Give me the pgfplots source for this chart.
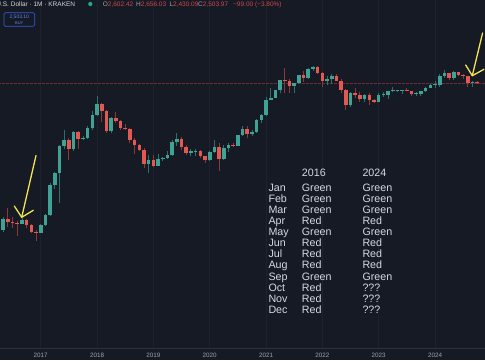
\documentclass[border=0pt]{standalone}
\usepackage{pgfplots}
\pgfplotsset{compat=1.18}
\usepackage{pgfplotstable}
\usepackage{fontspec}
\setmainfont{Liberation Sans}
\setsansfont{Liberation Sans}
\definecolor{bg}{RGB}{22,26,37}
\definecolor{cgreen}{RGB}{62,163,148}
\definecolor{cred}{RGB}{228,88,82}
\definecolor{cgreenw}{RGB}{44,112,104}
\definecolor{credw}{RGB}{140,56,56}
\definecolor{txt}{RGB}{214,217,224}
\definecolor{axtxt}{RGB}{160,163,173}
\definecolor{gridc}{RGB}{30,34,46}
\definecolor{sepc}{RGB}{44,48,60}
\definecolor{arrowc}{RGB}{242,228,82}
\definecolor{pline}{RGB}{112,46,50}
\definecolor{ohlc}{RGB}{205,72,72}
\definecolor{buy}{RGB}{52,92,215}
\definecolor{buytxt}{RGB}{95,135,250}
\definecolor{dotc}{RGB}{34,171,148}
\def\LT{2.302585093}

% monthly ETH/USD candles, m = months since Jan 2016
\pgfplotstableread{
m o h l c
4 8.8 14.9 8.3 13.6
8 11.4 14.2 11.0 13.2
12 7.95 11.3 7.8 10.6
13 10.6 16.5 10.3 15.6
14 15.6 55 15.2 49.5
15 49.5 83 43 78
16 78 230 25 225
17 225 410 200 285
19 200 400 185 387
21 297 325 280 305
22 305 486 290 440
23 440 860 415 745
24 745 1550 714 1110
27 392 690 370 665
35 110 156 80 131
37 105 164 102 134
38 134 147 126 141
39 141 185 138 161
40 161 285 152 265
41 265 363 226 288
44 170 201 150 181
45 181 199 152 183
48 129 184 126 180
49 180 285 172 218
51 133 228 128 205
52 205 246 177 230
54 226 347 221 340
55 340 485 330 435
57 360 418 334 384
58 384 620 370 615
59 615 755 540 735
60 735 1475 715 1310
61 1310 2040 1290 1420
62 1420 1945 1410 1915
63 1915 2790 1680 2780
66 2270 2550 1720 2530
67 2530 3470 2450 3430
69 3000 4460 2970 4290
70 4290 4870 3950 4630
73 2690 3280 2300 2920
74 2920 3480 2430 3280
78 1070 1780 1000 1680
81 1330 1660 1190 1575
84 1196 1680 1190 1585
85 1585 1745 1460 1605
86 1605 1860 1370 1822
87 1822 2140 1780 1870
88 1870 1930 1760 1873
89 1873 1935 1630 1934
92 1646 1750 1530 1671
93 1671 1865 1520 1815
94 1815 2135 1770 2050
95 2050 2445 2050 2282
96 2282 2715 2100 2283
97 2283 3520 2160 3340
98 3340 4090 3060 3645
100 3015 3975 2860 3762
104 2514 2730 2150 2603
}\ups

\pgfplotstableread{
m o h l c
3 11.4 12.2 6.9 8.8
5 13.6 21.0 10.0 12.3
6 12.3 14.8 9.6 11.8
7 11.8 12.4 7.0 11.4
9 13.2 13.8 9.6 10.8
10 10.8 11.2 7.8 8.2
11 8.2 8.8 5.9 7.95
18 285 300 130 200
20 387 395 197 297
25 1110 1160 555 845
26 845 877 365 392
28 665 832 530 572
29 572 600 416 452
30 452 510 416 433
31 433 440 255 280
32 280 300 166 228
33 228 240 185 193
34 193 205 96 110
36 131 160 101 105
42 288 318 190 214
43 214 236 158 170
46 183 190 140 150
47 150 154 116 129
50 218 252 86 133
53 230 254 214 226
56 435 490 305 360
64 2780 4380 1730 2710
65 2710 2950 1700 2270
68 3430 4030 2650 3000
71 4630 4780 3520 3680
72 3680 3870 2160 2690
75 3280 3580 2710 2730
76 2730 2960 1700 1940
77 1940 1970 880 1070
79 1680 2030 1420 1555
80 1555 1790 1220 1330
82 1575 1680 1075 1295
83 1295 1350 1150 1196
90 1934 2030 1830 1857
91 1857 1870 1550 1646
99 3645 3730 2810 3015
101 3762 3890 3240 3434
102 3434 3560 2950 3232
103 3232 3280 2110 2514
105 2602.42 2656.03 2430.09 2503.97
}\downs

\begin{document}
\begin{tikzpicture}[x=1pt,y=1pt]
\useasboundingbox (0,0) rectangle (485,360);
\fill[bg] (0,0) rectangle (485,360);
\begin{axis}[
  at={(0pt,12pt)}, anchor=south west,
  scale only axis, width=485pt, height=348pt,
  xmin=3.323, xmax=106.65, ymin=-1.018, ymax=4.782,
  axis line style={draw=none},
  ytick=\empty,
  xtick={12,24,36,48,60,72,84,96},
  xticklabels={2017,2018,2019,2020,2021,2022,2023,2024},
  xtick style={draw=none},
  xticklabel style={font=\fontsize{6.3}{7}\selectfont, text=axtxt, anchor=center, yshift=-7pt},
  xmajorgrids, grid style={gridc, line width=0.8pt},
  clip=true,
  candle/.style={only marks, mark=*, mark size=0.1pt,
    mark options={draw=none, fill=none, opacity=0}, forget plot},
]
% current price line
\addplot[pline, line width=0.8pt, dash pattern=on 2.5pt off 1.5pt, forget plot]
  coordinates {(3.0,3.39863) (107,3.39863)};
% wicks
\addplot[color=cgreenw, candle,
  error bars/.cd, y dir=plus, y explicit, error mark=none,
  error bar style={draw=cgreenw, line width=0.9pt}]
  table[x=m, y expr={ln(\thisrow{l})/\LT},
        y error plus expr={(ln(\thisrow{h})-ln(\thisrow{l}))/\LT}] {\ups};
\addplot[color=credw, candle,
  error bars/.cd, y dir=plus, y explicit, error mark=none,
  error bar style={draw=credw, line width=0.9pt}]
  table[x=m, y expr={ln(\thisrow{l})/\LT},
        y error plus expr={(ln(\thisrow{h})-ln(\thisrow{l}))/\LT}] {\downs};
% bodies
\addplot[color=cgreen, candle,
  error bars/.cd, y dir=plus, y explicit, error mark=none,
  error bar style={draw=cgreen, line width=3.6pt}]
  table[x=m, y expr={ln(\thisrow{o})/\LT},
        y error plus expr={max((ln(\thisrow{c})-ln(\thisrow{o}))/\LT,0.016)}] {\ups};
\addplot[color=cred, candle,
  error bars/.cd, y dir=plus, y explicit, error mark=none,
  error bar style={draw=cred, line width=3.6pt}]
  table[x=m, y expr={ln(\thisrow{c})/\LT},
        y error plus expr={max((ln(\thisrow{o})-ln(\thisrow{c}))/\LT,0.016)}] {\downs};
\end{axis}
% time axis separator
\draw[sepc, line width=0.8pt] (0,12) -- (485,12);
% header
\node[anchor=base west, inner sep=0, text=txt, font=\fontsize{6.5}{7}\selectfont] at (-3.8,353.7) {U.S. Dollar · 1M · KRAKEN};
\fill[dotc] (90.3,356) circle (2.1);
\node[anchor=base west, inner sep=0, font=\fontsize{6.5}{7}\selectfont] at (102.7,353.7) {\color{axtxt}O\color{ohlc}2,602.42};
\node[anchor=base west, inner sep=0, font=\fontsize{6.5}{7}\selectfont] at (136,353.7) {\color{axtxt}H\color{ohlc}2,656.03};
\node[anchor=base west, inner sep=0, font=\fontsize{6.5}{7}\selectfont] at (169.3,353.7) {\color{axtxt}L\color{ohlc}2,430.09};
\node[anchor=base west, inner sep=0, font=\fontsize{6.5}{7}\selectfont] at (198,353.7) {\color{axtxt}C\color{ohlc}2,503.97};
\node[anchor=base west, inner sep=0, font=\fontsize{6.5}{7}\selectfont, text=ohlc] at (233,353.7) {−99.00 (−3.80\%)};
% buy box
\draw[buy, line width=0.7pt, rounded corners=1.5pt] (4,333.7) rectangle (34.7,347.3);
\node[inner sep=0, text=buytxt, font=\fontsize{5}{6}\selectfont] at (19.3,343.2) {2,503.10};
\node[inner sep=0, text=buytxt, font=\fontsize{4}{5}\selectfont] at (19.3,337.3) {BUY};
% arrows
\draw[arrowc, line width=1.3pt, line cap=round, line join=round] (36,204.5) -- (21.7,142.7);
\draw[arrowc, line width=1.3pt, line cap=round, line join=round] (14.3,154) -- (21.7,142.7) -- (33.3,149.7);
\draw[arrowc, line width=1.3pt, line cap=round, line join=round] (482.6,327) -- (472.3,284.3);
\draw[arrowc, line width=1.3pt, line cap=round, line join=round] (465.7,295) -- (472.3,284.3) -- (484,290.7);
% table
\node[anchor=base west, inner sep=0, text=txt, font=\fontsize{10.7}{12}\selectfont] at (301.7,183.7) {2016};
\node[anchor=base west, inner sep=0, text=txt, font=\fontsize{10.7}{12}\selectfont] at (362.3,183.7) {2024};
\foreach \mo/\a/\b [count=\i from 0] in {Jan/Green/Green, Feb/Green/Green, Mar/Green/Green, Apr/Red/Red, May/Green/Green, Jun/Red/Red, Jul/Red/Red, Aug/Red/Red, Sep/Green/Green, Oct/Red/???, Nov/Red/???, Dec/Red/???}{
  \pgfmathsetmacro{\yy}{168.4-11.05*\i}
  \node[anchor=base west, inner sep=0, text=txt, font=\fontsize{10.7}{12}\selectfont] at (268.3,\yy) {\mo};
  \node[anchor=base west, inner sep=0, text=txt, font=\fontsize{10.7}{12}\selectfont] at (301.7,\yy) {\a};
  \node[anchor=base west, inner sep=0, text=txt, font=\fontsize{10.7}{12}\selectfont] at (362.3,\yy) {\b};
}
\end{tikzpicture}
\end{document}
